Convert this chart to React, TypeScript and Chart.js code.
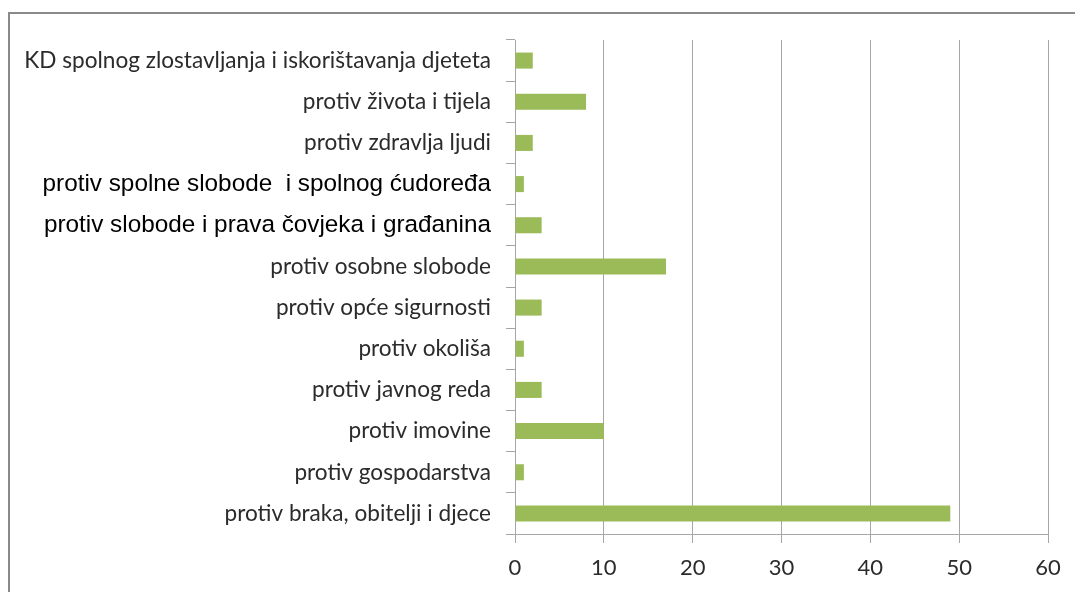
import React, { useEffect, useRef } from "react";
import { Chart, registerables } from "chart.js";

Chart.register(...registerables);

const categories: string[] = [
  "KD spolnog zlostavljanja i iskorištavanja djeteta",
  "protiv života i tijela",
  "protiv zdravlja ljudi",
  "protiv spolne slobode  i spolnog ćudoređa",
  "protiv slobode i prava čovjeka i građanina",
  "protiv osobne slobode",
  "protiv opće sigurnosti",
  "protiv okoliša",
  "protiv javnog reda",
  "protiv imovine",
  "protiv gospodarstva",
  "protiv braka, obitelji i djece",
];

const values: number[] = [2, 8, 2, 1, 3, 17, 3, 1, 3, 10, 1, 49];

// labels drawn in a sans (Arial-like) face in the original
const arialLabelIndexes: number[] = [3, 4];

const xMin = 0;
const xMax = 60;
const xStep = 10;

export default function App() {
  const canvasRef = useRef<HTMLCanvasElement | null>(null);

  useEffect(() => {
    if (!canvasRef.current) return;
    const chart = new Chart(canvasRef.current, {
      type: "bar",
      data: {
        labels: categories,
        datasets: [
          {
            data: values,
            backgroundColor: "#9BBB59",
            borderWidth: 0,
            barPercentage: 0.39,
            categoryPercentage: 1,
          },
        ],
      },
      options: {
        indexAxis: "y",
        responsive: false,
        maintainAspectRatio: false,
        animation: false,
        layout: { padding: { top: 40, right: 27, left: 0, bottom: 0 } },
        plugins: {
          legend: { display: false },
          tooltip: { enabled: false },
        },
        scales: {
          x: {
            min: xMin,
            max: xMax,
            ticks: {
              stepSize: xStep,
              color: "#2b2b2b",
              font: { family: "Lato", size: 22 },
              padding: 12,
            },
            grid: {
              color: "#a6a6a6",
              lineWidth: 1,
              drawTicks: true,
              tickLength: 9,
            },
            border: { display: true, color: "#a6a6a6", width: 1 },
            afterFit: (scale: any) => {
              scale.height = 58;
            },
          },
          y: {
            ticks: {
              padding: 15,
              color: (ctx: any) =>
                arialLabelIndexes.includes(ctx.index) ? "#000000" : "#2b2b2b",
              font: (ctx: any) =>
                arialLabelIndexes.includes(ctx.index)
                  ? { family: "Liberation Sans", size: 24.3 }
                  : { family: "Lato", size: 22.6 },
            },
            grid: {
              drawOnChartArea: false,
              drawTicks: true,
              tickLength: 9,
              offset: true,
              color: "#a6a6a6",
            },
            border: { display: true, color: "#a6a6a6", width: 1 },
            afterFit: (scale: any) => {
              scale.width = 515;
            },
          },
        },
      },
    });
    return () => chart.destroy();
  }, []);

  return (
    <div
      style={{
        position: "fixed",
        left: 0,
        top: 0,
        width: 1075,
        height: 592,
        overflow: "hidden",
        background: "#ffffff",
      }}
    >
      <div
        style={{
          position: "absolute",
          left: 8,
          top: 12,
          width: 1200,
          height: 700,
          border: "2px solid #8a8a8a",
          boxSizing: "border-box",
        }}
      />
      <canvas
        ref={canvasRef}
        width={1075}
        height={592}
        style={{ position: "absolute", left: 0, top: 0, width: 1075, height: 592 }}
      />
    </div>
  );
}
